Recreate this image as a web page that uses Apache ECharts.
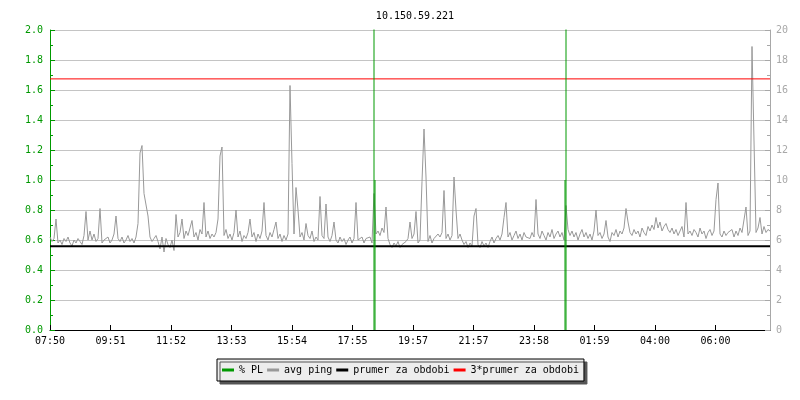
<!DOCTYPE html>
<html><head><meta charset="utf-8">
<script src="https://cdn.jsdelivr.net/npm/echarts@6/dist/echarts.min.js"></script>
<style>html,body{margin:0;padding:0;background:#fff}#c{width:800px;height:400px}</style>
</head><body><div id="c"></div>
<script>
const chartTitle = '10.150.59.221';
const xTickLabels = ['07:50','09:51','11:52','13:53','15:54','17:55','19:57','21:57','23:58','01:59','04:00','06:00'];
const xTickStepMinutes = 121;
const spanMinutes = 1440;
const pingStepMinutes = 4;
const avgPing = [
 6.2,5.9,6.1,7.4,5.8,6.0,5.7,6.1,5.9,6.2,5.8,5.6,6.0,5.8,6.1,5.9,5.7,6.3,7.9,6.0,
 6.6,6.0,6.4,5.9,6.1,8.1,5.8,6.0,5.9,6.2,5.8,6.0,6.4,7.6,6.1,5.9,6.2,5.8,6.0,6.3,
 5.9,6.1,5.8,6.2,7.1,11.8,12.3,9.1,9.0,7.6,6.2,5.9,6.1,6.3,5.9,5.4,6.2,5.2,6.1,5.7,
 5.5,6.0,5.3,7.7,6.2,6.5,7.4,6.1,6.6,6.3,6.8,7.3,6.2,6.5,6.0,6.7,6.4,8.5,6.2,6.6,
 6.1,6.4,6.2,6.5,7.4,11.6,12.2,6.3,6.7,6.1,6.4,6.0,6.5,8.0,6.2,6.6,5.9,6.3,6.1,6.5,
 7.4,6.2,6.5,5.9,6.4,6.1,6.6,8.5,6.3,6.0,6.5,6.2,6.7,7.2,6.1,6.4,5.9,6.3,6.0,6.4,
 16.3,11.1,6.4,9.5,8.0,6.2,6.5,6.0,7.1,6.3,6.1,6.6,5.9,6.2,6.0,8.9,6.3,6.1,8.4,6.2,
 5.9,6.3,7.2,6.0,5.8,6.2,5.9,6.1,5.7,6.0,6.2,5.8,6.1,8.5,6.0,5.9,6.2,5.8,6.1,6.0,
 6.2,5.8,9.1,6.4,6.6,6.3,6.8,6.5,8.2,6.1,5.7,5.5,5.8,5.6,5.9,5.5,5.7,5.6,5.9,6.1,
 7.2,6.1,6.4,7.9,5.8,6.0,9.9,13.4,10.2,5.9,6.3,5.8,6.1,6.0,6.4,6.2,6.5,9.3,6.1,6.4,
 6.0,6.3,10.2,8.0,6.1,6.4,6.0,5.7,5.9,5.5,5.8,5.6,7.6,8.1,5.7,5.5,5.9,5.6,5.8,5.5,
 5.9,6.2,5.8,6.1,6.3,6.0,6.4,7.5,8.5,6.2,6.5,6.0,6.3,6.6,6.1,6.4,6.0,6.5,6.2,6.3,
 6.1,6.5,6.2,8.7,6.4,6.1,6.6,6.3,6.0,6.5,6.2,6.7,6.1,6.4,6.6,6.2,6.5,6.0,8.3,6.7,
 6.3,6.6,6.2,6.5,6.0,6.4,6.7,6.2,6.5,6.1,6.4,6.0,6.6,8.0,6.3,6.5,6.1,6.4,7.3,6.2,
 5.9,6.5,6.3,6.7,6.2,6.6,6.4,6.8,8.1,7.2,6.5,6.3,6.7,6.4,6.6,6.2,6.8,6.5,6.3,6.9,
 6.6,7.0,6.7,7.5,6.8,7.2,6.6,6.9,7.1,6.7,6.5,6.8,6.4,6.7,6.3,6.6,6.9,6.2,8.5,6.4,
 6.6,6.3,6.7,6.5,6.2,6.8,6.4,6.6,6.1,6.5,6.7,6.3,6.6,8.7,9.8,6.4,6.2,6.6,6.3,6.5,
 6.4,6.7,6.2,6.6,6.3,6.8,6.5,6.4,8.2,6.3,6.6,18.9,12.6,6.5,6.8,7.5,6.4,6.9,6.5,6.7,
 6.6
];
const plTimes  = [648, 648, null, 650, 650, null, 1032, 1032, null, 1030, 1030];
const plValues = [0, 5, null, 0, 1.0, null, 0, 5, null, 0, 1.0];
const periodAvg = 5.58;
const periodAvg3 = 16.74;

const mono = 'DejaVu Sans Mono';
const pingData = avgPing.map((v, i) => [i * pingStepMinutes, v]);
const plData = plTimes.map((t, i) => t === null ? [plTimes[i - 1], '-'] : [t, plValues[i]]);

const chart = echarts.init(document.getElementById('c'), null, {renderer: 'canvas'});
chart.setOption({
  animation: false,
  backgroundColor: '#ffffff',
  title: {
    text: chartTitle, left: 410, top: 6, textAlign: 'center',
    textStyle: {fontFamily: mono, fontSize: 10, fontWeight: 'normal', color: '#000'}
  },
  legend: {
    left: 217, top: 359, padding: [6, 5, 6, 5], itemGap: 4,
    itemWidth: 12, itemHeight: 3, icon: 'rect',
    backgroundColor: '#ededed', borderColor: '#000', borderWidth: 1,
    shadowColor: '#555', shadowBlur: 0, shadowOffsetX: 3, shadowOffsetY: 3,
    textStyle: {fontFamily: mono, fontSize: 10, color: '#000'},
    data: ['% PL', 'avg ping', 'prumer za obdobi', '3*prumer za obdobi']
  },
  grid: {left: 50, right: 30, top: 30, bottom: 70},
  xAxis: {
    type: 'value', min: 0, max: spanMinutes, interval: xTickStepMinutes,
    axisLine: {show: true, onZero: false, lineStyle: {color: '#000', width: 1}},
    axisTick: {show: true, inside: true, length: 5, lineStyle: {color: '#000'}},
    splitLine: {show: false},
    axisLabel: {
      showMaxLabel: false, margin: 6, color: '#000', fontFamily: mono, fontSize: 10,
      formatter: v => (v % xTickStepMinutes === 0 && xTickLabels[v / xTickStepMinutes]) || ''
    }
  },
  yAxis: [{
    type: 'value', position: 'left', min: 0, max: 2, interval: 0.2,
    axisLine: {show: true, lineStyle: {color: '#009900'}},
    axisTick: {show: true, inside: true, length: 5, lineStyle: {color: '#009900'}},
    minorTick: {show: true, splitNumber: 2, length: 3, lineStyle: {color: '#009900'}},
    splitLine: {show: true, lineStyle: {color: '#c4c4c4', width: 1}},
    axisLabel: {margin: 7, color: '#009900', fontFamily: mono, fontSize: 10, formatter: v => v.toFixed(1)}
  }, {
    type: 'value', position: 'right', min: 0, max: 20, interval: 2,
    axisLine: {show: true, lineStyle: {color: '#a8a8a8'}},
    axisTick: {show: true, inside: true, length: 5, lineStyle: {color: '#a8a8a8'}},
    minorTick: {show: true, splitNumber: 2, length: 3, lineStyle: {color: '#a8a8a8'}},
    splitLine: {show: false},
    axisLabel: {margin: 6, color: '#a8a8a8', fontFamily: mono, fontSize: 10}
  }],
  series: [{
    name: 'avg ping', type: 'line', yAxisIndex: 1, data: pingData,
    showSymbol: false, symbol: 'none', z: 2,
    itemStyle: {color: '#999999'}, lineStyle: {color: '#999999', width: 1}
  }, {
    name: 'prumer za obdobi', type: 'line', yAxisIndex: 1,
    data: [[0, periodAvg], [spanMinutes, periodAvg]],
    showSymbol: false, symbol: 'none', z: 3,
    itemStyle: {color: '#000'}, lineStyle: {color: '#000', width: 2}
  }, {
    name: '3*prumer za obdobi', type: 'line', yAxisIndex: 1,
    data: [[0, periodAvg3], [spanMinutes, periodAvg3]],
    showSymbol: false, symbol: 'none', z: 4,
    itemStyle: {color: '#ff0000'}, lineStyle: {color: '#ff0000', width: 1}
  }, {
    name: '% PL', type: 'line', yAxisIndex: 0, data: plData,
    showSymbol: false, symbol: 'none', connectNulls: false, z: 5, clip: true,
    itemStyle: {color: '#009900'}, lineStyle: {color: '#009900', width: 1}
  }]
});
</script>
</body></html>
